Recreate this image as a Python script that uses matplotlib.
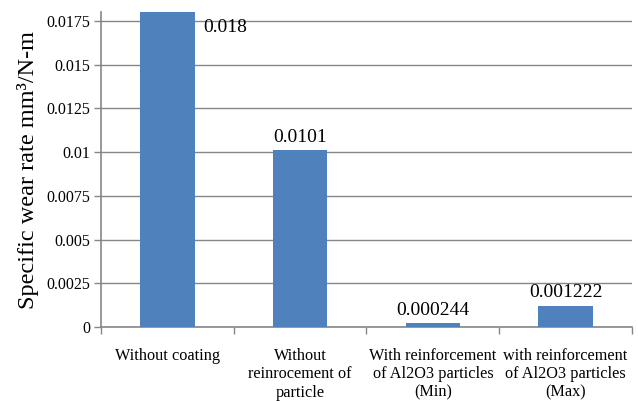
import matplotlib
matplotlib.use("Agg")
import matplotlib.pyplot as plt
import numpy as np

categories = [
    "Without coating",
    "Without\nreinrocement of\nparticle",
    "With reinforcement\nof Al2O3 particles\n(Min)",
    "with reinforcement\nof Al2O3 particles\n(Max)",
]
wear_rate = [0.018, 0.0101, 0.000244, 0.001222]
value_labels = ["0.018", "0.0101", "0.000244", "0.001222"]
y_ticks = [0, 0.0025, 0.005, 0.0075, 0.01, 0.0125, 0.015, 0.0175]
y_tick_labels = ["0", "0.0025", "0.005", "0.0075", "0.01", "0.0125", "0.015", "0.0175"]

SERIF = ["Liberation Serif", "DejaVu Serif"]
plt.rcParams["font.family"] = SERIF

fig = plt.figure(figsize=(6.38, 4.01), dpi=100)
ax = fig.add_axes([0.1583, 0.1845, 0.8323, 0.7855])

grid_color = "#868686"
bar_color = "#4F81BD"

x = np.arange(len(categories))
ax.bar(x, wear_rate, width=0.41, color=bar_color, zorder=3)

ax.set_xlim(-0.5, len(categories) - 0.5)
ax.set_ylim(0, 0.018)
ax.set_yticks(y_ticks)
ax.set_yticklabels(y_tick_labels, fontsize=11.5, family=SERIF)
ax.yaxis.grid(True, color=grid_color, linewidth=1.0, zorder=0)
ax.set_axisbelow(True)

# category labels centred under bars, tick marks on category boundaries
ax.set_xticks(x)
ax.set_xticklabels(categories, fontsize=11.7, linespacing=1.2, family=SERIF)
ax.tick_params(axis="x", length=0, pad=15)
ax.set_xticks(np.arange(-0.5, len(categories), 1.0), minor=True)
ax.tick_params(axis="x", which="minor", length=5, color=grid_color, width=1)
ax.tick_params(axis="y", length=5, color=grid_color, width=1, pad=3)

for side in ("top", "right"):
    ax.spines[side].set_visible(False)
for side in ("left", "bottom"):
    ax.spines[side].set_color(grid_color)
    ax.spines[side].set_linewidth(1.2)

ax.set_ylabel("Specific wear rate mm³/N-m", fontsize=17.5, labelpad=5, family=SERIF)

# value labels: tallest bar's label sits beside its top, the rest above the bars
for i, (v, lab) in enumerate(zip(wear_rate, value_labels)):
    if i == 0:
        ax.annotate(lab, (x[i] + 0.205, v), xytext=(6, -11), textcoords="offset points",
                    ha="left", va="center", fontsize=14, family=SERIF)
    else:
        ax.annotate(lab, (x[i], v), xytext=(0, 3), textcoords="offset points",
                    ha="center", va="bottom", fontsize=14, family=SERIF)

fig.savefig("out.png", dpi=100)
